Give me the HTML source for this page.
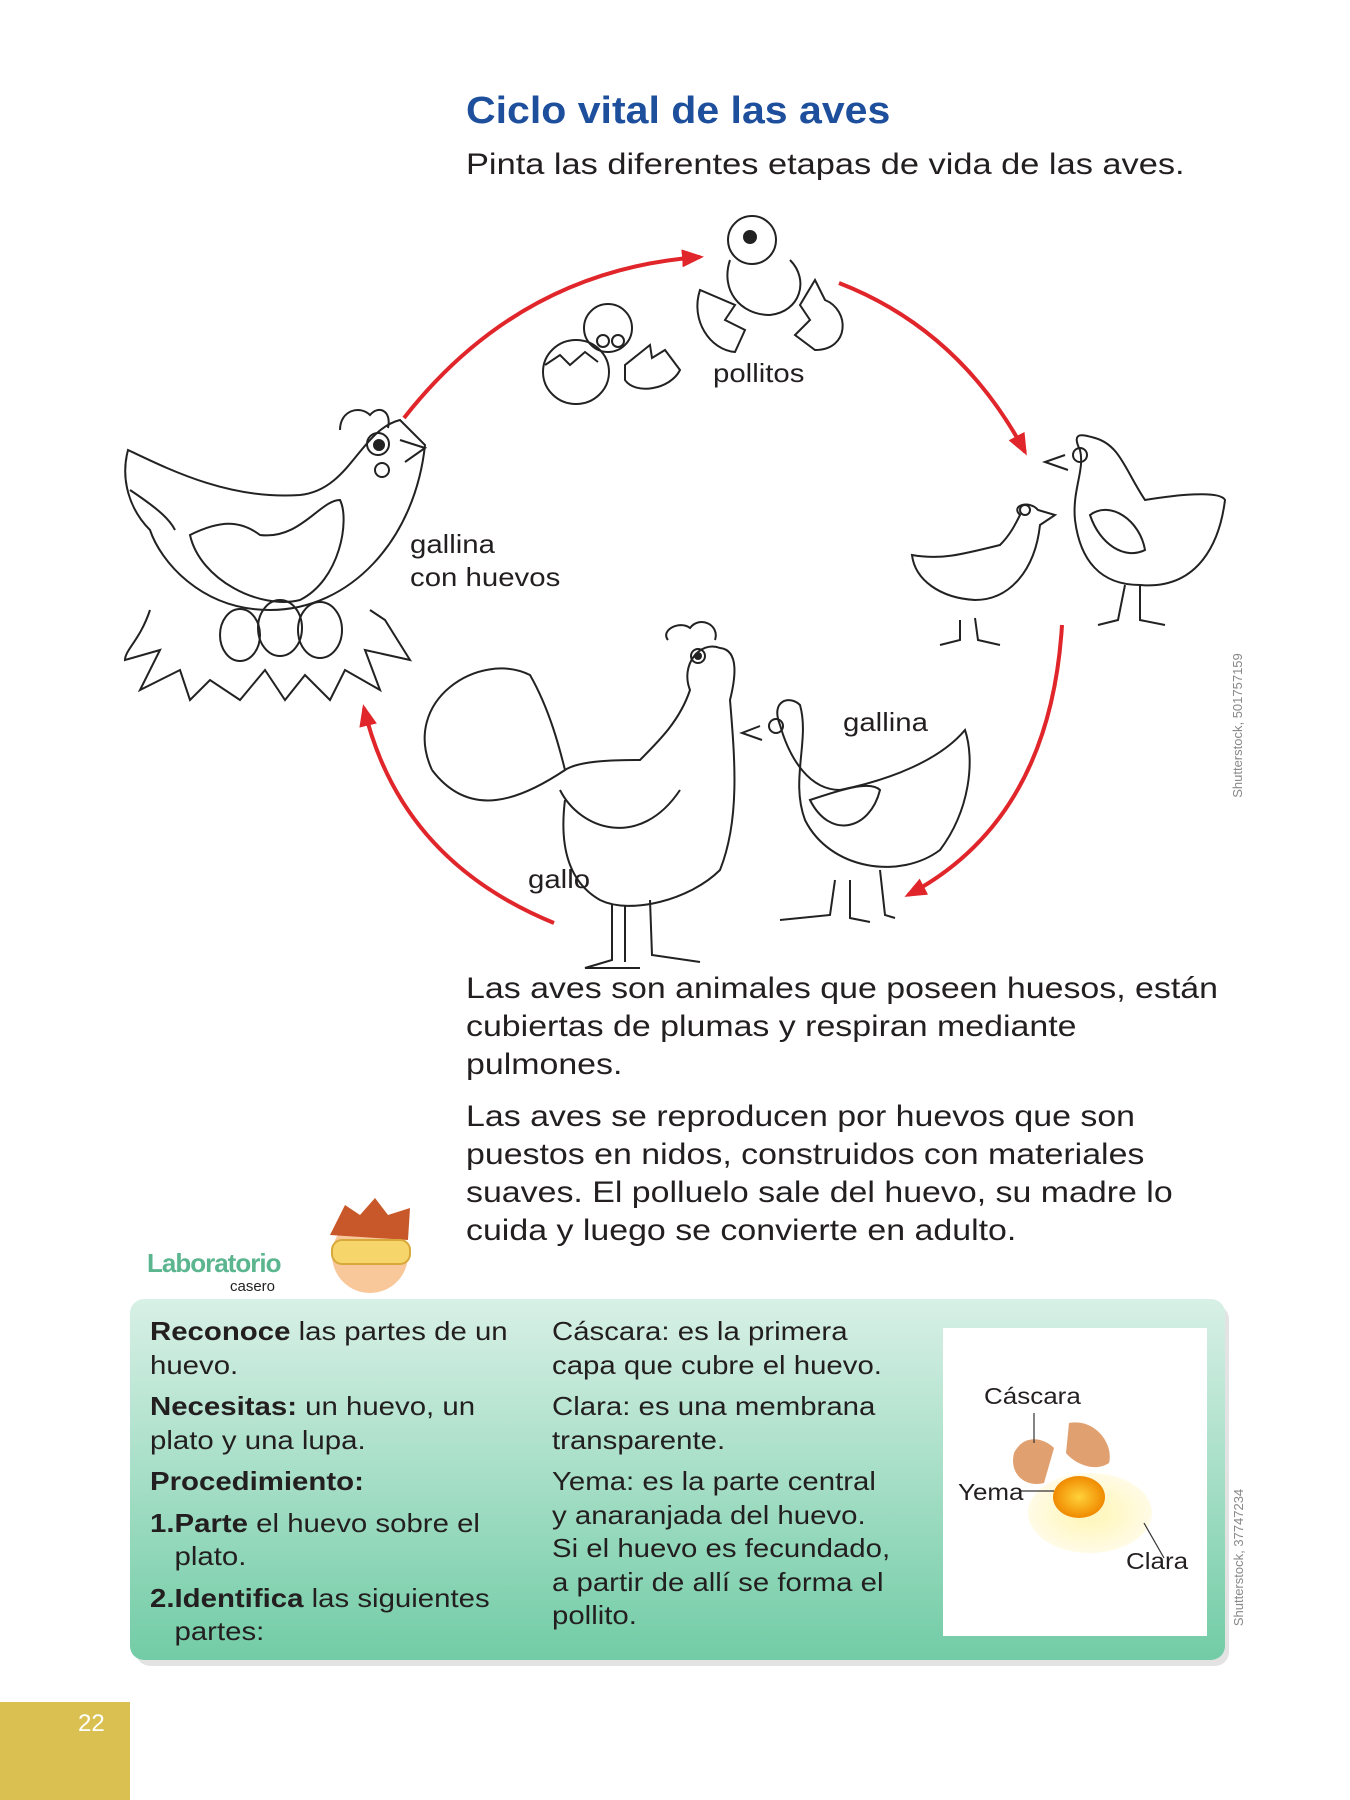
<!DOCTYPE html>
<html><head><meta charset="utf-8"><style>
body{margin:0;width:1350px;height:1800px;position:relative;background:#fff;font-family:"Liberation Sans",sans-serif;color:#231f20;overflow:hidden}
.t{position:absolute;white-space:nowrap;transform-origin:0 0}
.w{transform:scaleX(1.13)}
svg{position:absolute;left:0;top:0}
</style></head><body>
<svg width="1350" height="1800" viewBox="0 0 1350 1800" fill="none" stroke="#222" stroke-width="2">
<defs>
<marker id="a2" markerWidth="22" markerHeight="18" refX="18" refY="9" orient="auto" markerUnits="userSpaceOnUse"><path d="M0,0 L22,9 L0,18 z" fill="#e0262b" stroke="none"/></marker>
<linearGradient id="g" x1="0" y1="0" x2="0" y2="1"><stop offset="0" stop-color="#d8f0e6"/><stop offset="1" stop-color="#72cca6"/></linearGradient>
<radialGradient id="yk"><stop offset="0" stop-color="#ffd23a"/><stop offset="1" stop-color="#f08a00"/></radialGradient>
<radialGradient id="cl"><stop offset="0.3" stop-color="#fff7c2"/><stop offset="1" stop-color="#fffbe6"/></radialGradient>
</defs>
<g stroke="#e0262b" stroke-width="4">
<path d="M404,418 Q520,270 700,257" marker-end="url(#a2)"/>
<path d="M839,283 Q960,330 1025,452" marker-end="url(#a2)"/>
<path d="M1062,625 Q1050,820 908,895" marker-end="url(#a2)"/>
<path d="M554,923 Q400,860 364,708" marker-end="url(#a2)"/>
</g>
<g>
<path d="M128,450 C170,470 230,500 300,495 C350,490 360,430 400,420 L425,445 C415,540 350,610 270,610 C200,610 160,560 150,530 C130,510 120,480 128,450 Z"/>
<path d="M130,490 C160,510 170,520 175,530"/>
<path d="M190,535 C200,580 260,610 300,600 C340,580 350,520 340,500 C320,500 300,540 260,535 C240,520 220,520 190,535Z"/>
<circle cx="378" cy="444" r="11"/><circle cx="379" cy="445" r="5" fill="#222"/>
<circle cx="382" cy="470" r="7"/>
<path d="M400,440 L425,448 L405,462"/>
<path d="M340,430 C340,410 360,405 370,415 C378,405 392,410 388,428"/>
<ellipse cx="280" cy="628" rx="22" ry="28"/><ellipse cx="240" cy="635" rx="20" ry="26"/><ellipse cx="320" cy="630" rx="22" ry="28"/>
<path d="M150,610 C140,640 125,650 125,660 L160,650 L140,690 L180,670 L190,700 L210,680 L240,700 L265,670 L285,700 L305,675 L330,700 L345,670 L380,690 L365,650 L410,660 L385,620 L370,610"/>
</g>
<g>
<ellipse cx="576" cy="372" rx="33" ry="32"/><path d="M545,365 L560,355 L570,365 L585,352 L598,362"/>
<circle cx="608" cy="328" r="24"/><circle cx="603" cy="341" r="6"/><circle cx="618" cy="341" r="6"/>
<path d="M625,365 L650,345 L652,358 L665,350 L680,370 C670,390 635,395 625,380Z"/>
</g>
<g>
<circle cx="752" cy="240" r="24"/><circle cx="750" cy="237" r="6" fill="#222"/>
<path d="M730,260 C720,290 740,315 770,315 C800,312 810,280 790,260"/>
<path d="M700,290 C690,320 710,350 735,352 L745,330 L725,320 L735,305 Z"/>
<path d="M815,280 L825,300 C850,310 850,350 815,350 L795,335 L810,320 L800,305Z"/>
</g>
<g>
<path d="M1080,450 C1070,430 1085,435 1095,438 C1120,445 1125,470 1145,500 C1175,495 1220,490 1225,500 C1220,540 1200,590 1140,585 C1100,585 1080,560 1075,520 C1072,490 1085,470 1080,450Z"/>
<circle cx="1080" cy="455" r="7"/><path d="M1065,455 L1045,462 L1068,470"/>
<path d="M1090,515 C1110,500 1140,520 1145,550 C1125,560 1100,545 1090,515Z"/>
<path d="M1125,585 L1118,620 L1098,625 M1140,585 L1140,620 L1165,625"/>
<path d="M1020,515 C1010,505 1030,500 1038,510 L1055,515 L1040,525 C1035,570 1010,600 975,600 C940,598 915,580 912,555 C940,560 960,555 1000,545 C1010,535 1015,525 1020,515Z"/>
<circle cx="1025" cy="510" r="5"/>
<path d="M960,620 L960,640 L940,645 M975,618 L978,640 L1000,645"/>
</g>
<g>
<path d="M432,770 C400,700 480,650 530,675 C550,710 560,750 565,770 C580,760 620,760 640,760 C660,740 680,720 690,690 C680,665 700,640 720,648 C740,650 735,680 730,700 C735,760 740,820 720,870 C690,900 630,915 600,900 C565,880 560,840 565,800"/>
<path d="M565,770 C520,800 470,820 432,770"/>
<circle cx="698" cy="656" r="7"/><circle cx="698" cy="656" r="3" fill="#222"/>
<path d="M668,640 C660,630 680,620 690,628 C700,615 720,625 715,640"/>
<path d="M612,905 L612,960 L585,968 L640,968 M625,905 L625,962 M650,900 L652,955 L700,962"/>
<path d="M560,790 C580,830 640,850 680,790"/>
</g>
<g>
<path d="M780,725 C770,700 790,695 800,705 C810,740 790,780 805,820 C830,870 900,880 940,850 C970,810 975,760 965,730 C940,760 890,780 840,790 C810,790 790,760 780,725Z"/>
<circle cx="776" cy="726" r="7"/><path d="M760,726 L742,733 L762,740"/>
<path d="M810,800 C840,790 870,780 880,790 C870,830 830,840 810,800Z"/>
<path d="M835,880 L830,915 L780,920 M850,880 L850,918 L870,922 M880,870 L885,915 L895,918"/>
</g>
<rect x="136" y="1305" width="1093" height="361" rx="14" fill="#d0d0d0" stroke="none" opacity="0.6"/>
<rect x="130" y="1299" width="1095" height="361" rx="14" fill="url(#g)" stroke="none"/>
<rect x="943" y="1328" width="264" height="308" fill="#fff" stroke="none"/>
<ellipse cx="1090" cy="1513" rx="62" ry="40" fill="url(#cl)" stroke="none"/>
<ellipse cx="1079" cy="1497" rx="26" ry="21" fill="url(#yk)" stroke="none"/>
<path d="M1014,1453 C1024,1433 1044,1438 1054,1448 L1044,1483 C1024,1488 1009,1473 1014,1453Z" fill="#e0a070" stroke="none"/>
<path d="M1069,1423 C1094,1418 1114,1443 1109,1463 C1094,1473 1074,1463 1066,1453Z" fill="#e0a070" stroke="none"/>
<g stroke="#333" stroke-width="1.2"><path d="M1034,1413 L1034,1443 M1019,1491 L1054,1491 M1144,1523 L1164,1558"/></g>
<rect x="0" y="1702" width="130" height="98" fill="#d9c050" stroke="none"/>
<circle cx="370" cy="1255" r="38" fill="#f9c89a" stroke="none"/>
<path d="M330,1235 L345,1205 L360,1215 L375,1198 L388,1215 L410,1208 L408,1240 Z" fill="#c8582a" stroke="none"/>
<rect x="332" y="1240" width="78" height="24" rx="10" fill="#f6d66a" stroke="#d8a93a"/>
</svg>
<div class="t" style="left:466px;top:90px;font-size:38px;font-weight:bold;color:#1d4f9c;transform:scaleX(1.08)">Ciclo vital de las aves</div>
<div class="t" style="left:466px;top:148px;font-size:30px;transform:scaleX(1.146)">Pinta las diferentes etapas de vida de las aves.</div>
<div class="t w" style="left:713px;top:358px;font-size:26px">pollitos</div>
<div class="t w" style="left:410px;top:528px;font-size:26px;line-height:33px">gallina<br>con huevos</div>
<div class="t w" style="left:843px;top:707px;font-size:26px">gallina</div>
<div class="t w" style="left:528px;top:864px;font-size:26px">gallo</div>
<div class="t w" style="left:466px;top:970px;font-size:30px;line-height:38px">Las aves son animales que poseen huesos, están<br>cubiertas de plumas y respiran mediante<br>pulmones.</div>
<div class="t w" style="left:466px;top:1098px;font-size:30px;line-height:38px">Las aves se reproducen por huevos que son<br>puestos en nidos, construidos con materiales<br>suaves. El polluelo sale del huevo, su madre lo<br>cuida y luego se convierte en adulto.</div>
<div class="t" style="left:147px;top:1248px;font-size:26px;color:#5bb58f;font-weight:bold;letter-spacing:-1px">Laboratorio</div>
<div class="t" style="left:230px;top:1278px;font-size:15px">casero</div>
<div class="t w" style="left:150px;top:1315px;font-size:26px;line-height:33.5px">
<b>Reconoce</b> las partes de un<br>huevo.<div style="height:8px"></div><b>Necesitas:</b> un huevo, un<br>plato y una lupa.<div style="height:8px"></div><b>Procedimiento:</b><div style="height:8px"></div><b>1.Parte</b> el huevo sobre el<br>&nbsp;&nbsp;&nbsp;plato.<div style="height:8px"></div><b>2.Identifica</b> las siguientes<br>&nbsp;&nbsp;&nbsp;partes:</div>
<div class="t w" style="left:552px;top:1315px;font-size:26px;line-height:33.5px">Cáscara: es la primera<br>capa que cubre el huevo.<div style="height:8px"></div>Clara: es una membrana<br>transparente.<div style="height:8px"></div>Yema: es la parte central<br>y anaranjada del huevo.<br>Si el huevo es fecundado,<br>a partir de allí se forma el<br>pollito.</div>
<div class="t w" style="left:984px;top:1383px;font-size:23px">Cáscara</div>
<div class="t w" style="left:958px;top:1479px;font-size:23px">Yema</div>
<div class="t w" style="left:1126px;top:1548px;font-size:23px">Clara</div>
<div class="t" style="left:78px;top:1710px;font-size:24px;color:#fff">22</div>
<div class="t" style="left:1165px;top:718px;font-size:13px;color:#888;transform:rotate(-90deg);transform-origin:center">Shutterstock, 501757159</div>
<div class="t" style="left:1170px;top:1550px;font-size:13px;color:#888;transform:rotate(-90deg);transform-origin:center">Shutterstock, 37747234</div>
</body></html>
